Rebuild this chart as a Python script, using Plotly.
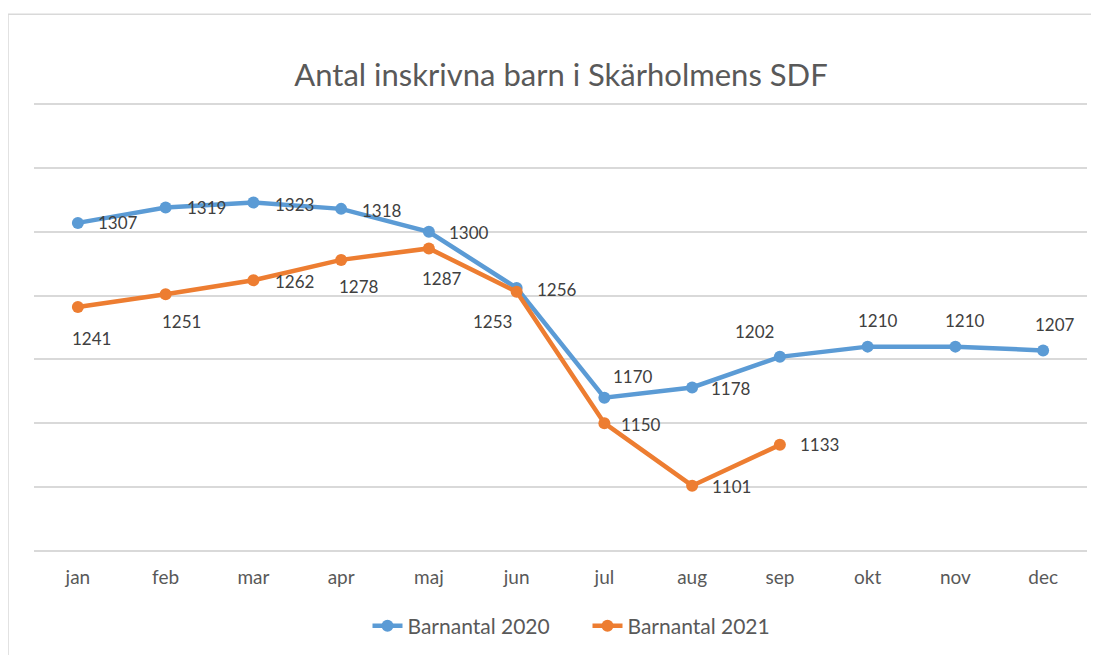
import plotly.graph_objects as go

months = ["jan", "feb", "mar", "apr", "maj", "jun", "jul", "aug", "sep", "okt", "nov", "dec"]
barn_2020 = [1307, 1319, 1323, 1318, 1300, 1256, 1170, 1178, 1202, 1210, 1210, 1207]
barn_2021 = [1241, 1251, 1262, 1278, 1287, 1253, 1150, 1101, 1133]

title_text = "Antal inskrivna barn i Skärholmens SDF"
name_2020 = "Barnantal 2020"
name_2021 = "Barnantal 2021"

# label offsets in pixels (style only; plotly yshift: positive = up)
off_2020 = [(40, 0), (41, 0), (41, -2), (41, -2), (40, -1), (40, -2), (29, 21), (39, -1), (-25, 25), (10, 26), (10, 26), (12, 26)]
off_2021 = [(14, -31), (16, -27), (41, -1), (18, -27), (13, -30), (-24, -30), (37, -1), (39, -1), (40, 0)]

BLUE = "#5B9BD5"
ORANGE = "#ED7D31"
FONT = "Lato"

W, H = 1091, 647
L, R, T, B = 26, 12, 94.7, 103.2
PW, PH = W - L - R, H - T - B

fig = go.Figure()
fig.add_trace(go.Scatter(x=months, y=barn_2020, mode="lines+markers", name=name_2020,
                         line=dict(color=BLUE, width=4.5), marker=dict(color=BLUE, size=12)))
fig.add_trace(go.Scatter(x=months[:len(barn_2021)], y=barn_2021, mode="lines+markers", name=name_2021,
                         line=dict(color=ORANGE, width=4.5), marker=dict(color=ORANGE, size=12)))

annots = []
for xs, ys, offs in [(months, barn_2020, off_2020), (months, barn_2021, off_2021)]:
    for m, v, (dx, dy) in zip(xs, ys, offs):
        annots.append(dict(x=m, y=v, xref="x", yref="y", text=str(v), showarrow=False,
                           xshift=dx, yshift=dy, font=dict(family=FONT, size=17, color="#404040")))

# border in figure pixel coordinates -> paper coordinates
bx0, bx1, by0, by1 = 0, 1110, 14 - 8, 680
fig.update_layout(
    width=W, height=H,
    margin=dict(l=L, r=R, t=T, b=B, autoexpand=False),
    paper_bgcolor="white", plot_bgcolor="white",
    font=dict(family=FONT, color="#595959"),
    title=dict(text=title_text, x=553 / W, xanchor="center", y=1 - 67 / H, yanchor="middle",
               font=dict(family=FONT, size=31, color="#595959")),
    showlegend=True,
    legend=dict(orientation="h", x=0.5 + 27 / PW, xanchor="center", y=-0.165, yanchor="middle",
                entrywidth=175, entrywidthmode="pixels",
                font=dict(family=FONT, size=21, color="#595959"), bgcolor="rgba(0,0,0,0)"),
    annotations=annots,
    shapes=[dict(type="rect", xref="paper", yref="paper",
                 x0=(bx0 - L) / PW, x1=(bx1 - L) / PW,
                 y0=(T + PH - by1) / PH, y1=(T + PH - by0) / PH,
                 line=dict(color="#D9D9D9", width=1.5), fillcolor="rgba(0,0,0,0)", layer="below")],
)
fig.update_xaxes(type="category", range=[-0.5, 11.5], showgrid=False, showline=False, zeroline=False,
                 ticks="", ticklabelstandoff=12, tickfont=dict(family=FONT, size=19, color="#595959"))
fig.update_yaxes(range=[1049, 1401], dtick=50, tick0=1050, showgrid=True, gridcolor="#D9D9D9", gridwidth=1.5,
                 zeroline=False, showline=False, showticklabels=False, ticks="")

fig.write_html("out.html")
